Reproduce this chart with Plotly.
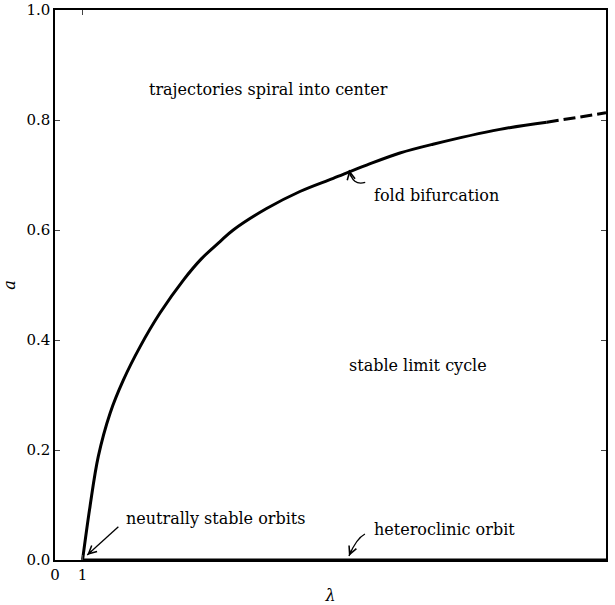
import plotly.graph_objects as go

# fold bifurcation curve
lam_solid = [1.0, 1.27, 1.57, 2.00, 2.48, 3.09, 3.81, 4.66, 5.32, 5.99, 6.47, 7.68, 8.89, 10.10, 11.31, 12.52, 13.72, 16.15, 17.85]
a_solid = [0.0, 0.097, 0.188, 0.267, 0.327, 0.388, 0.449, 0.509, 0.548, 0.579, 0.600, 0.639, 0.670, 0.694, 0.718, 0.740, 0.756, 0.783, 0.796]
lam_dash = [17.85, 20.0]
a_dash = [0.796, 0.813]
# heteroclinic orbit along a = 0
lam_het = [1.0, 20.0]
a_het = [0.0, 0.0]

x_ticks = [0, 1, 20]
y_ticks = [0.0, 0.2, 0.4, 0.6, 0.8, 1.0]

FONT = "DejaVu Serif"
fig = go.Figure()
fig.add_trace(go.Scatter(x=lam_solid, y=a_solid, mode="lines", line=dict(color="black", width=3, shape="spline", smoothing=1.0), hoverinfo="skip"))
fig.add_trace(go.Scatter(x=lam_dash, y=a_dash, mode="lines", line=dict(color="black", width=3, dash="12px,5px"), hoverinfo="skip"))
fig.add_trace(go.Scatter(x=lam_het, y=a_het, mode="lines", line=dict(color="black", width=3), hoverinfo="skip", cliponaxis=False))

texts = [
    ("trajectories spiral into center", 3.34, 0.855),
    ("fold bifurcation", 11.5, 0.662),
    ("stable limit cycle", 10.6, 0.353),
    ("neutrally stable orbits", 2.50, 0.076),
    ("heteroclinic orbit", 11.5, 0.055),
]
for t, x, y in texts:
    fig.add_annotation(x=x, y=y, text=t, showarrow=False, xanchor="left", yanchor="middle",
                       font=dict(family=FONT, size=16, color="black"))

# arrows: (tail, control, tip)
arrows = [
    ((11.26, 0.6867), (10.80, 0.6795), (10.68, 0.7091)),
    ((11.25, 0.0473), (10.94, 0.0393), (10.67, 0.0073)),
    ((2.30, 0.0606), None, (1.17, 0.0091)),
]
for tail, ctrl, tip in arrows:
    if ctrl is None:
        path = f"M {tail[0]},{tail[1]} L {tip[0]},{tip[1]}"
        d = (tip[0] - tail[0], tip[1] - tail[1])
    else:
        path = f"M {tail[0]},{tail[1]} Q {ctrl[0]},{ctrl[1]} {tip[0]},{tip[1]}"
        d = (tip[0] - ctrl[0], tip[1] - ctrl[1])
    fig.add_shape(type="path", path=path, xref="x", yref="y", line=dict(color="black", width=1.3))
    dx = d[0] * 27.55
    dy = -d[1] * 550
    n = (dx * dx + dy * dy) ** 0.5
    fig.add_annotation(x=tip[0], y=tip[1], ax=-dx / n * 8, ay=-dy / n * 8, text="", showarrow=True,
                       arrowhead=5, arrowsize=1.2, arrowwidth=1.3, arrowcolor="black", standoff=0)

fig.update_xaxes(range=[0, 20], tickvals=x_ticks, ticktext=[str(v) for v in x_ticks], ticks="inside", ticklen=5,
                 showline=True, linecolor="black", linewidth=1.5, mirror="ticks", showgrid=False, zeroline=False,
                 automargin=False, tickfont=dict(family=FONT, size=15, color="black"),
                 title=dict(text="<i>λ</i>", font=dict(family=FONT, size=16, color="black"), standoff=8))
fig.update_yaxes(range=[0, 1.0], tickvals=y_ticks, ticktext=[f"{v:.1f}" for v in y_ticks], ticks="inside", ticklen=5,
                 showline=True, linecolor="black", linewidth=1.5, mirror="ticks", showgrid=False, zeroline=False,
                 automargin=False, tickfont=dict(family=FONT, size=15, color="black"),
                 title=dict(text="<i>a</i>", font=dict(family=FONT, size=16, color="black"), standoff=10))
fig.update_layout(width=615, height=605, margin=dict(l=55, r=9, t=10, b=45), showlegend=False,
                  plot_bgcolor="white", paper_bgcolor="white")
fig.write_html("out.html")
